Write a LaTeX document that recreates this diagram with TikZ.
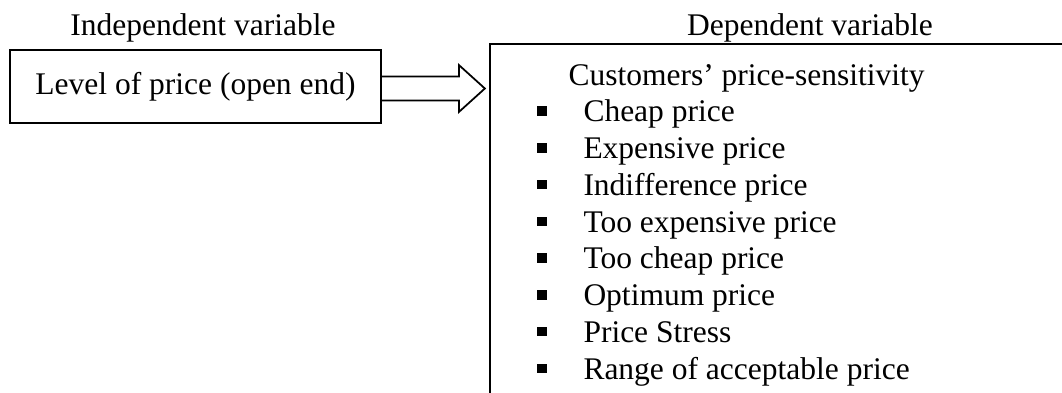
\documentclass[tikz,border=0pt]{standalone}
\usepackage{fontspec}
\setmainfont{Liberation Serif}
\usetikzlibrary{positioning}

\begin{document}
\begin{tikzpicture}[
        x=0.4pt, y=-0.4pt,
        every node/.style={font=\fontsize{12.6}{15}\selectfont},
        head/.style={inner sep=0pt, anchor=base},
        box/.style={rectangle, draw, line width=0.7pt,
            minimum width=148.4pt, minimum height=29.2pt, inner sep=0pt},
        item/.style={inner sep=0pt, anchor=base west},
        dot/.style={rectangle, fill=black, minimum size=3.8pt, inner sep=0pt},
        frame/.style={line width=0.7pt}
    ]
        \useasboundingbox (0,0) rectangle (1062,393);

        \node[head] (indep) at (203,35) {Independent variable};
        \node[box] (level) at (195.5,86.5) {Level of price (open end)};
        \node[head] (dep) at (810,35) {Dependent variable};

        % open frame of the dependent side
        \coordinate (frametop) at (1062,44);
        \coordinate (framebot) at (490,393);
        \draw[frame] (frametop) -| (framebot);

        \node[item] (sens) at (568,85) {Customers’ price-sensitivity};
        \foreach \txt [count=\i] in {Cheap price, Expensive price,
            Indifference price, Too expensive price, Too cheap price,
            Optimum price, Price Stress, Range of acceptable price} {
            \node[item] (item\i) at (583,85+36.75*\i) {\txt};
            \node[dot] (dot\i) at (542,74.3+36.75*\i) {};
        }

        % block arrow
        \draw[frame] ([yshift=4pt]level.east) -- ++(77,0) -- ++(0,-11.5)
            -- ++(26,23.5) -- ++(-26,23.5) -- ++(0,-11.5)
            -- ([yshift=-5.6pt]level.east);
    \end{tikzpicture}
\end{document}
